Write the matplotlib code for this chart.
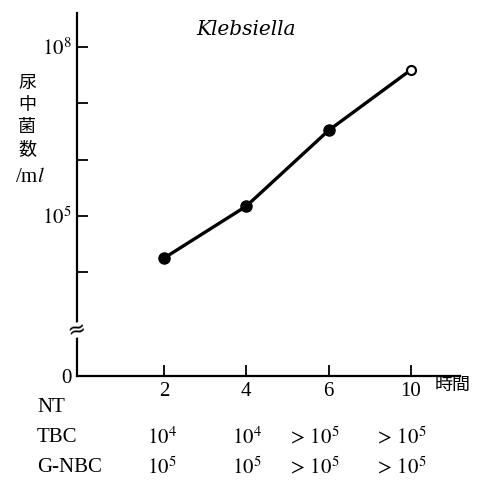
import numpy as np
import matplotlib.pyplot as plt
from matplotlib.transforms import blended_transform_factory

# data
hours = ['2', '4', '6', '10']
counts = [1.8e4, 1.5e5, 3.3e6, 3.9e7]   # last point is the open circle
row_labels = ['NT', 'TBC', 'G-NBC']
tbc = [r'$10^{4}$', r'$10^{4}$', r'$>\,10^{5}$', r'$>\,10^{5}$']
gnbc = [r'$10^{5}$', r'$10^{5}$', r'$>\,10^{5}$', r'$>\,10^{5}$']
ylabel_chars = ['尿', '中', '菌', '数']

plt.rcParams['font.family'] = ['Liberation Serif', 'Noto Sans CJK JP']
plt.rcParams['mathtext.fontset'] = 'stix'
plt.rcParams['font.size'] = 12

fig = plt.figure(figsize=(4.88, 4.93), dpi=100)
ax = fig.add_axes([0.158, 0.2373, 0.785, 0.7363])

xpos = np.arange(1, len(hours) + 1)
ax.plot(xpos, counts, 'k-', lw=2.4, zorder=2)
ax.plot(xpos[:-1], counts[:-1], 'ko', ms=8, zorder=3)
ax.plot(xpos[-1:], counts[-1:], 'o', ms=6.5, mfc='white', mec='black', mew=1.5, zorder=3)

ax.set_yscale('log')
ybot = 10 ** 2.165
ax.set_ylim(ybot, 10 ** 8.6)
ax.set_xlim(-0.057, 4.6)

for sp in ['top', 'right']:
    ax.spines[sp].set_visible(False)
for sp in ['left', 'bottom']:
    ax.spines[sp].set_linewidth(1.6)

ax.set_xticks(xpos)
ax.set_xticklabels(hours, fontsize=15)
ax.set_yticks([ybot, 1e5, 1e8])
ax.set_yticklabels(['0', r'$10^{5}$', r'$10^{8}$'], fontsize=15)
ax.set_yticks([1e4, 1e6, 1e7], minor=True)
ax.yaxis.set_minor_formatter(plt.NullFormatter())
ax.tick_params(axis='both', which='major', direction='in', length=8, width=1.3, pad=4)
ax.tick_params(axis='y', which='minor', direction='in', length=8, width=1.3)

# axis break mark
trans = blended_transform_factory(ax.transAxes, ax.transData)
ax.text(0, 10 ** 2.98, '≈', transform=trans, ha='center', va='center',
        fontsize=16, family='DejaVu Sans', rotation=15,
        bbox=dict(fc='white', ec='none', pad=-2))

ax.text(0.44, 0.955, 'Klebsiella', transform=ax.transAxes, style='italic',
        fontsize=14.5, family='DejaVu Serif', ha='center', va='center')

# x unit label
fig.text(453 / 488, 1 - 385 / 493, '時間', ha='center', va='center', fontsize=13,
         family=['Noto Sans CJK JP'])

# vertical y label
for i, ch in enumerate(ylabel_chars):
    fig.text(27 / 488, 1 - (83 + 22 * i) / 493, ch, ha='center', va='center',
             fontsize=13, family=['Noto Sans CJK JP'])
fig.text(30 / 488, 1 - 177 / 493, r'/m$l$', ha='center', va='center', fontsize=15)

# table under the chart
row_y = [408, 438, 468]
col_x = [147, 232, 287, 374]
for lab, yy in zip(row_labels, row_y):
    fig.text(37 / 488, 1 - yy / 493, lab, ha='left', va='center', fontsize=15)
for vals, yy in zip([tbc, gnbc], row_y[1:]):
    for v, xx in zip(vals, col_x):
        fig.text(xx / 488, 1 - yy / 493, v, ha='left', va='center', fontsize=15)

fig.savefig('out.png', dpi=100)
